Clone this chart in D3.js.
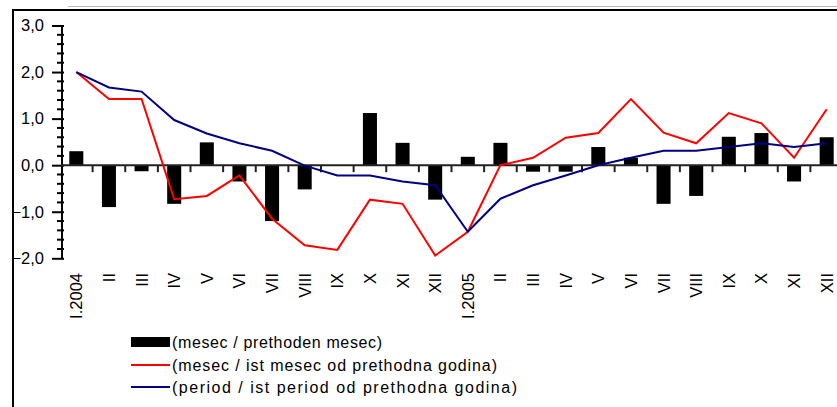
<!DOCTYPE html>
<html>
<head>
<meta charset="utf-8">
<script src="https://cdn.jsdelivr.net/npm/d3@7"></script>
<style>
html,body{margin:0;padding:0;background:#fff;}
svg{display:block;}
text{font-family:"Liberation Sans",Arial,sans-serif;fill:#000;}
</style>
</head>
<body>
<svg id="chart" width="837" height="407"></svg>
<script>
const categories = ["I.2004","II","III","IV","V","VI","VII","VIII","IX","X","XI","XII",
                    "I.2005","II","III","IV","V","VI","VII","VIII","IX","X","XI","XII"];
const monthOverPrev = [0.3,-0.9,-0.13,-0.83,0.49,-0.35,-1.2,-0.52,0,1.12,0.48,-0.74,
                       0.18,0.48,-0.14,-0.14,0.39,0.16,-0.83,-0.66,0.61,0.69,-0.35,0.6];
const monthOverYear = [2.0,1.42,1.42,-0.73,-0.66,-0.22,-1.15,-1.72,-1.82,-0.74,-0.83,-1.94,
                       -1.43,0.0,0.16,0.59,0.69,1.42,0.7,0.47,1.12,0.9,0.16,1.2];
const periodOverYear = [2.0,1.67,1.58,0.97,0.68,0.47,0.31,-0.01,-0.22,-0.22,-0.35,-0.43,
                        -1.43,-0.72,-0.43,-0.22,0.0,0.16,0.31,0.31,0.39,0.47,0.39,0.47];
const yTicks = [-2,-1,0,1,2,3];
const legendLabels = ["(mesec / prethoden mesec)",
                      "(mesec / ist mesec od prethodna godina)",
                      "(period / ist period od prethodna godina)"];

const svg = d3.select("#chart");
const idx = d3.range(categories.length);
const x = d3.scaleBand().domain(idx).range([60, 843]).paddingInner(0).paddingOuter(0);
const y = d3.scaleLinear().domain([-2, 3]).range([258.3, 25.5]);
const cx = i => x(i) + x.bandwidth() / 2;

// outer frame
svg.append("line").attr("x1", 68).attr("x2", 837).attr("y1", 6.5).attr("y2", 6.5)
  .attr("stroke", "#bbb").attr("stroke-width", 1);
svg.append("path").attr("d", "M13,10 L837,10 M13,9 L13,407")
  .attr("fill", "none").attr("stroke", "#000").attr("stroke-width", 2);

// bars
const bw = x.bandwidth() * 0.43;
svg.append("g").selectAll("rect").data(monthOverPrev).join("rect")
  .attr("x", (d, i) => cx(i) - bw / 2)
  .attr("width", bw)
  .attr("y", d => y(Math.max(0, d)))
  .attr("height", d => Math.abs(y(d) - y(0)))
  .attr("fill", "#000");

// y axis
const yAxis = d3.axisLeft(y).tickValues(yTicks).tickSize(11).tickSizeOuter(0)
  .tickFormat(d => d3.format(".1f")(d).replace(".", ","));
const gy = svg.append("g").attr("transform", "translate(63,0)").call(yAxis);
gy.select(".domain").attr("stroke", "#000").attr("stroke-width", 2).attr("transform", "translate(-1.5,0)");
gy.selectAll(".tick line").attr("stroke", "#000").attr("stroke-width", 2).attr("x1", 1);
gy.selectAll(".tick text").attr("x", -19).attr("font-size", 16.5)
  .attr("font-family", "'Liberation Sans', Arial, sans-serif").attr("fill", "#000");
const minor = d3.range(-2, 3.0001, 0.2).filter(v => Math.abs(v - Math.round(v)) > 0.01);
svg.append("g").selectAll("line").data(minor).join("line")
  .attr("x1", 57).attr("x2", 64).attr("y1", d => y(d)).attr("y2", d => y(d))
  .attr("stroke", "#000").attr("stroke-width", 2);

// zero line and category ticks
svg.append("line").attr("x1", 61).attr("x2", 837).attr("y1", y(0)).attr("y2", y(0))
  .attr("stroke", "#222").attr("stroke-width", 2);
svg.append("g").selectAll("line").data(idx.slice(1)).join("line")
  .attr("x1", i => x(i)).attr("x2", i => x(i))
  .attr("y1", y(0)).attr("y2", y(0) + 7)
  .attr("stroke", "#222").attr("stroke-width", 2);

// x labels
svg.append("g").selectAll("text").data(categories).join("text")
  .attr("transform", (d, i) => `translate(${cx(i)},273) rotate(-90)`)
  .attr("text-anchor", "end").attr("dy", "0.36em")
  .attr("font-size", 16.5).text(d => d);

// lines
const line = d3.line().x((d, i) => cx(i)).y(d => y(d));
svg.append("path").datum(monthOverYear).attr("d", line)
  .attr("fill", "none").attr("stroke", "#ff0000").attr("stroke-width", 2);
svg.append("path").datum(periodOverYear).attr("d", line)
  .attr("fill", "none").attr("stroke", "#000080").attr("stroke-width", 2);

// legend
const lg = svg.append("g");
lg.append("rect").attr("x", 131).attr("y", 337).attr("width", 39).attr("height", 10).attr("fill", "#000");
lg.append("line").attr("x1", 131).attr("x2", 170).attr("y1", 365).attr("y2", 365)
  .attr("stroke", "#ff0000").attr("stroke-width", 2);
lg.append("line").attr("x1", 131).attr("x2", 170).attr("y1", 387).attr("y2", 387)
  .attr("stroke", "#000080").attr("stroke-width", 2);
const legendY = [342, 365, 387];
const legendW = [210, 325, 345];
lg.selectAll("text").data(legendLabels).join("text")
  .attr("x", 172).attr("y", (d, i) => legendY[i]).attr("dy", "0.35em")
  .attr("font-size", 16)
  .attr("textLength", (d, i) => legendW[i]).attr("lengthAdjust", "spacing")
  .text(d => d);
</script>
</body>
</html>
